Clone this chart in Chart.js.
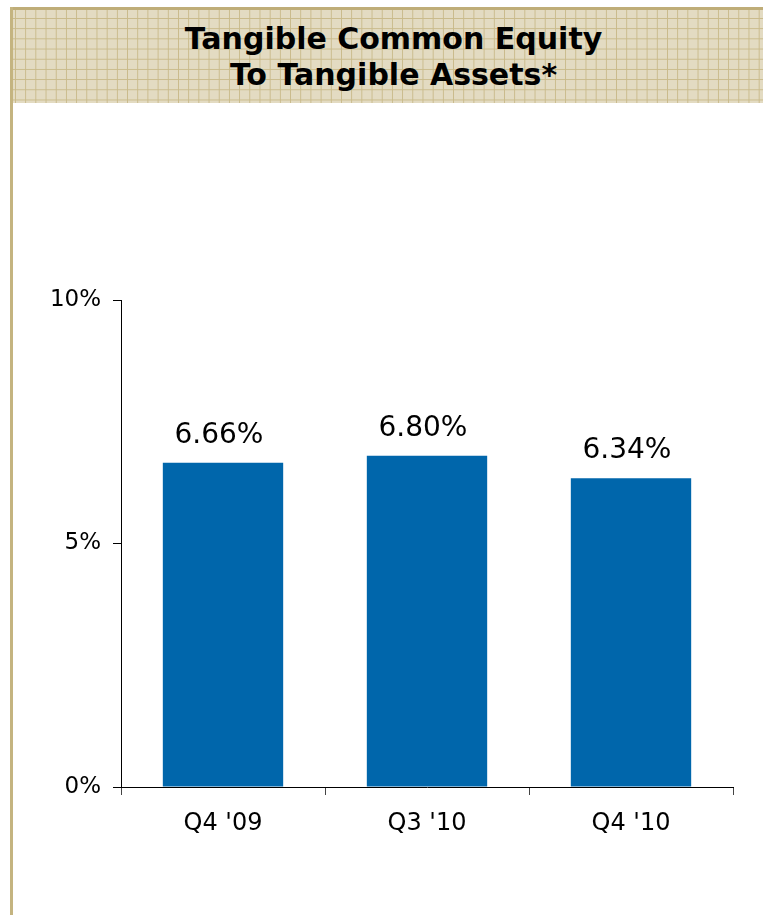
<!DOCTYPE html>
<html>
<head>
<meta charset="utf-8">
<script src="https://cdn.jsdelivr.net/npm/chart.js@4"></script>
<style>
    body { margin: 0; width: 763px; height: 915px; background: #fff; position: relative; overflow: hidden; font-family: "DejaVu Sans", sans-serif; }
    #leftRule { position: absolute; left: 10px; top: 7px; width: 3px; height: 908px; background: #c4b480; }
    #header {
        position: absolute; left: 10px; top: 7px; width: 753px; height: 93px;
        border-top: 3px solid #bfad78;
        background-color: #e3dbc2;
        background-image:
            linear-gradient(to right, #c9ba8a 1px, transparent 1px),
            linear-gradient(to bottom, #c9ba8a 1px, transparent 1px);
        background-size: 10.2px 10.2px;
        background-position: 5px 8px;
    }
    #title { position: absolute; left: 12px; top: 21px; width: 763px; text-align: center; font: bold 30px "DejaVu Sans", sans-serif; line-height: 36px; color: #000; }
    #chartBox { position: absolute; left: 0; top: 0; width: 763px; height: 915px; }
</style>
</head>
<body>
<div id="header"></div>
<div id="leftRule"></div>
<div id="title">Tangible Common Equity<br>To Tangible Assets*</div>
<div id="chartBox"><canvas id="chart"></canvas></div>
<script>
// Données du graphique
const categories = ["Q4 '09", "Q3 '10", "Q4 '10"];
const ratioValues = [6.66, 6.80, 6.34];
const yTicks = [0, 5, 10];

// Étiquettes de valeur au-dessus des barres
const valueLabels = {
    id: 'valueLabels',
    afterDatasetsDraw(chart) {
        const ctx = chart.ctx;
        const meta = chart.getDatasetMeta(0);
        ctx.save();
        ctx.font = '28px "DejaVu Sans", sans-serif';
        ctx.fillStyle = '#000';
        ctx.textAlign = 'center';
        ctx.textBaseline = 'alphabetic';
        meta.data.forEach((bar, i) => {
            ctx.fillText(ratioValues[i].toFixed(2) + '%', bar.x - 4, bar.y - 20);
        });
        ctx.restore();
    }
};

const ctx = document.getElementById('chart').getContext('2d');
new Chart(ctx, {
    type: 'bar',
    data: {
        labels: categories,
        datasets: [{
            data: ratioValues,
            backgroundColor: '#0066ab',
            barPercentage: 0.59,
            categoryPercentage: 1,
        }],
    },
    options: {
        responsive: true,
        maintainAspectRatio: false,
        animation: false,
        layout: { padding: { top: 300, right: 30, left: 0, bottom: 0 } },
        plugins: { legend: { display: false }, tooltip: { enabled: false } },
        scales: {
            x: {
                afterFit: scale => { scale.height = 128; },
                grid: { offset: true, drawOnChartArea: false, drawTicks: true, tickLength: 8, color: '#444', lineWidth: 1 },
                border: { display: true, color: '#000', width: 1 },
                ticks: { color: '#000', font: { family: 'DejaVu Sans', size: 24 }, padding: 14 },
            },
            y: {
                min: 0,
                max: 10,
                afterFit: scale => { scale.width = 121; },
                afterBuildTicks: scale => { scale.ticks = yTicks.map(v => ({ value: v })); },
                grid: { drawOnChartArea: false, drawTicks: true, tickLength: 8, color: '#000' },
                border: { display: true, color: '#000', width: 1 },
                ticks: { color: '#000', font: { family: 'DejaVu Sans', size: 23 }, padding: 12, callback: value => `${value}%` },
            },
        },
    },
    plugins: [valueLabels],
});
</script>
</body>
</html>
